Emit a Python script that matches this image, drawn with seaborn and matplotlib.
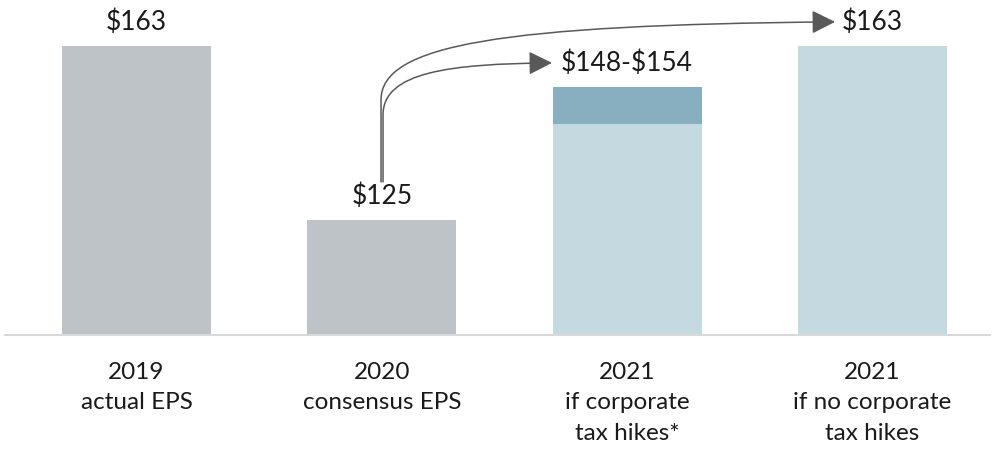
import numpy as np
import pandas as pd
import seaborn as sns
import matplotlib.pyplot as plt
from matplotlib.path import Path
from matplotlib.patches import FancyArrowPatch
from matplotlib.transforms import blended_transform_factory

# data
categories = ["2019\nactual EPS", "2020\nconsensus EPS",
              "2021\nif corporate\ntax hikes*", "2021\nif no corporate\ntax hikes"]
eps_base = [163, 125, 146, 163]        # bar height (light part for 2021 range)
eps_high = [None, None, 154, None]     # top of range
value_labels = [r"\$163", r"\$125", r"\$148-\$154", r"\$163"]
bar_colors = ["#bdc3c7", "#bdc3c7", "#c5d9e0", "#c5d9e0"]
range_color = "#88afc0"

sns.set_theme(style="white")
plt.rcParams["font.family"] = ["Lato", "DejaVu Sans"]

fig = plt.figure(figsize=(9.97, 4.57), dpi=100)
ax = fig.add_axes([0.005, 0.267, 0.988, 0.733])

df = pd.DataFrame({"cat": categories, "eps": eps_base})
sns.barplot(data=df, x="cat", y="eps", hue="cat", palette=bar_colors,
            width=0.607, legend=False, ax=ax, saturation=1, linewidth=0)

# range part of 2021 bar
for i, hi in enumerate(eps_high):
    if hi is not None:
        ax.bar(i, hi - eps_base[i], bottom=eps_base[i], width=0.607,
               color=range_color, linewidth=0)

ax.set_ylim(100, 173)
ax.set_xlim(-0.536, 3.479)

# value labels
for i, lab in enumerate(value_labels):
    top = eps_high[i] if eps_high[i] is not None else eps_base[i]
    ax.text(i, top + 5.2, lab, ha="center", va="center", fontsize=19, color="#1a1a1a")

# axes style
for s in ["top", "right", "left"]:
    ax.spines[s].set_visible(False)
ax.spines["bottom"].set_color("#d9d9d9")
ax.spines["bottom"].set_linewidth(1.5)
ax.set_yticks([])
ax.set_xticklabels([])
ax.set_xlabel("")
ax.set_ylabel("")
ax.tick_params(axis="x", length=0)

# category labels
trans = blended_transform_factory(ax.transData, fig.transFigure)
for i, cat in enumerate(categories):
    ax.text(i, 1 - 362 / 457, cat, transform=trans, ha="center", va="top",
            fontsize=17.5, color="#1a1a1a", linespacing=1.55)


def px(x, y):
    # reference pixel position -> data coords
    return ((x - 136.5) / 245.3, 100 + (335 - y) / 4.587)


arrow_col = "#595959"
paths = [
    [px(383, 182), px(383, 115), px(383, 72), px(450, 64), px(552, 63)],
    [px(381, 182), px(381, 100), px(381, 45), px(500, 25), px(835, 22)],
]
for pts in paths:
    codes = [Path.MOVETO, Path.LINETO, Path.CURVE4, Path.CURVE4, Path.CURVE4]
    arr = FancyArrowPatch(path=Path(pts, codes), arrowstyle="-|>,head_length=0.9,head_width=0.45",
                          mutation_scale=16, color=arrow_col, linewidth=1.1)
    ax.add_patch(arr)

plt.savefig("out.png", dpi=100)
